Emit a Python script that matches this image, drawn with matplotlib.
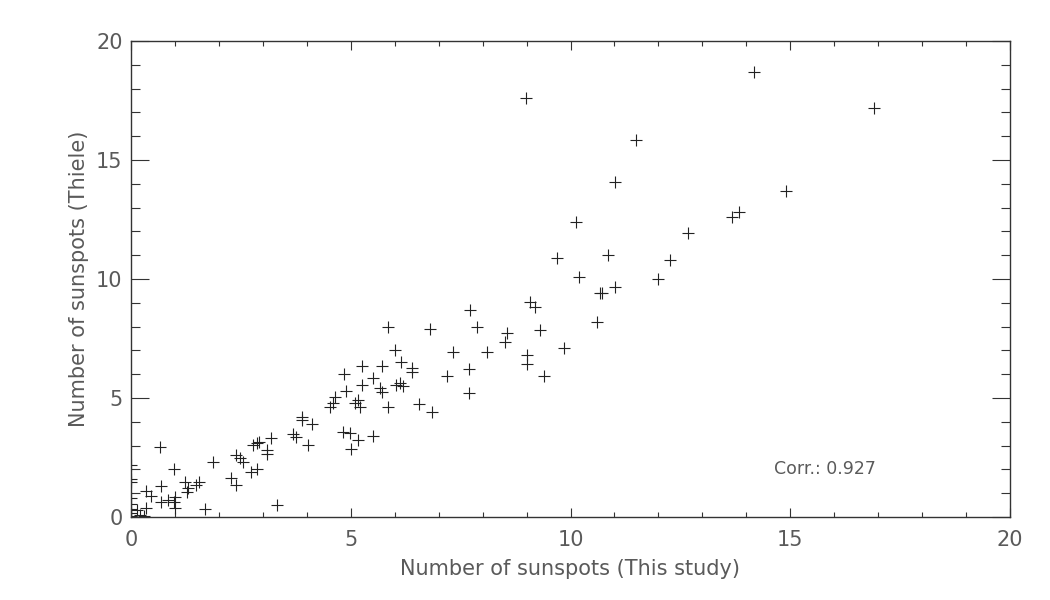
import matplotlib
matplotlib.use('Agg')
import matplotlib.pyplot as plt
from matplotlib.ticker import MultipleLocator

# sunspot counts
this_study = [0, 0, 0, 0, 0, 0, 0, 0,
              0.14, 0.2, 0.3, 0.33, 0.33, 0.46, 0.66, 0.69, 0.69, 0.84, 0.97,
              0.97, 1.0, 1.0, 1.22, 1.3, 1.27, 1.48, 1.55, 1.68, 1.86,
              2.28, 2.39, 2.39, 2.48, 2.54, 2.73, 2.86, 2.78, 2.86, 2.92,
              3.09, 3.09, 3.19, 3.33, 3.68, 3.75, 4.02, 3.88, 3.88, 4.11,
              4.53, 4.60, 4.64, 4.85, 4.89, 4.83, 4.98, 5.01, 5.10, 5.17,
              5.21, 5.17, 5.25, 5.25, 5.50, 5.51, 5.67, 5.70, 5.70, 5.85,
              5.85, 6.0, 6.04, 6.12, 6.20, 6.14, 6.39, 6.39, 6.56, 6.80, 6.86,
              7.20, 7.33, 7.68, 7.68, 7.71, 7.88, 8.11, 8.51, 8.56, 9.0, 9.0,
              9.08, 9.19, 9.31, 9.40, 9.86, 9.7, 8.98,
              10.12, 10.20, 10.61, 10.66, 10.71, 10.85, 11.01, 11.01, 11.5,
              12.0, 12.26, 12.68, 13.67, 13.83, 14.18, 14.9, 16.9]
thiele = [2.2, 1.6, 1.45, 0.8, 0.55, 0.35, 0.15, 0.05,
          0.29, 0.1, 0.05, 0.38, 1.1, 0.9, 2.93, 1.32, 0.64, 0.7, 2.02,
          0.64, 0.36, 0.82, 1.48, 1.2, 1.06, 1.35, 1.46, 0.32, 2.31,
          1.63, 1.34, 2.6, 2.46, 2.32, 1.9, 2.0, 3.03, 3.1, 3.16,
          2.82, 2.65, 3.3, 0.5, 3.49, 3.37, 3.03, 4.21, 4.08, 3.91,
          4.63, 4.78, 5.03, 6.01, 5.31, 3.58, 3.54, 2.84, 4.78, 4.92,
          4.63, 3.24, 6.34, 5.55, 3.40, 5.83, 5.41, 5.26, 6.34, 4.61,
          8.0, 7.02, 5.55, 5.62, 5.50, 6.53, 6.25, 6.1, 4.75, 7.90, 4.40,
          5.92, 6.92, 6.20, 5.22, 8.70, 8.0, 6.92, 7.37, 7.74, 6.81, 6.43,
          9.05, 8.84, 7.86, 5.92, 7.11, 10.9, 17.6,
          12.38, 10.10, 8.21, 9.40, 9.40, 11.0, 9.68, 14.09, 15.85,
          9.98, 10.80, 11.92, 12.59, 12.80, 18.7, 13.7, 17.2]
corr = 0.927

txt = '#5a5a5a'
fig = plt.figure(figsize=(10.5, 6), dpi=100)
ax = fig.add_axes([131/1050, 1-517/600, 879/1050, 476/600])

ax.plot(this_study, thiele, '+', color='#222222', ms=9, mew=0.8)
ax.text(15.8, 2.0, 'Corr.: %.3f' % corr, ha='center', va='center',
        fontsize=12.5, color=txt)

ax.set_xlim(0, 20)
ax.set_ylim(0, 20)
ax.xaxis.set_major_locator(MultipleLocator(5))
ax.xaxis.set_minor_locator(MultipleLocator(1))
ax.yaxis.set_major_locator(MultipleLocator(5))
ax.yaxis.set_minor_locator(MultipleLocator(1))
ax.tick_params(axis='x', which='major', direction='in', top=True, length=6.8,
               width=0.8, color='#333333', labelsize=15, labelcolor=txt, pad=9)
ax.tick_params(axis='x', which='minor', direction='in', top=True, length=3.4,
               width=0.8, color='#333333')
ax.tick_params(axis='y', which='major', direction='in', right=True, length=12.7,
               width=0.8, color='#333333', labelsize=15, labelcolor=txt, pad=6)
ax.tick_params(axis='y', which='minor', direction='in', right=True, length=6.3,
               width=0.8, color='#333333')
for s in ax.spines.values():
    s.set_color('#333333')
    s.set_linewidth(1.0)

ax.set_xlabel('Number of sunspots (This study)', fontsize=15, color=txt, labelpad=7)
ax.set_ylabel('Number of sunspots (Thiele)', fontsize=15, color=txt, labelpad=5)

fig.savefig('out.png', dpi=100)
